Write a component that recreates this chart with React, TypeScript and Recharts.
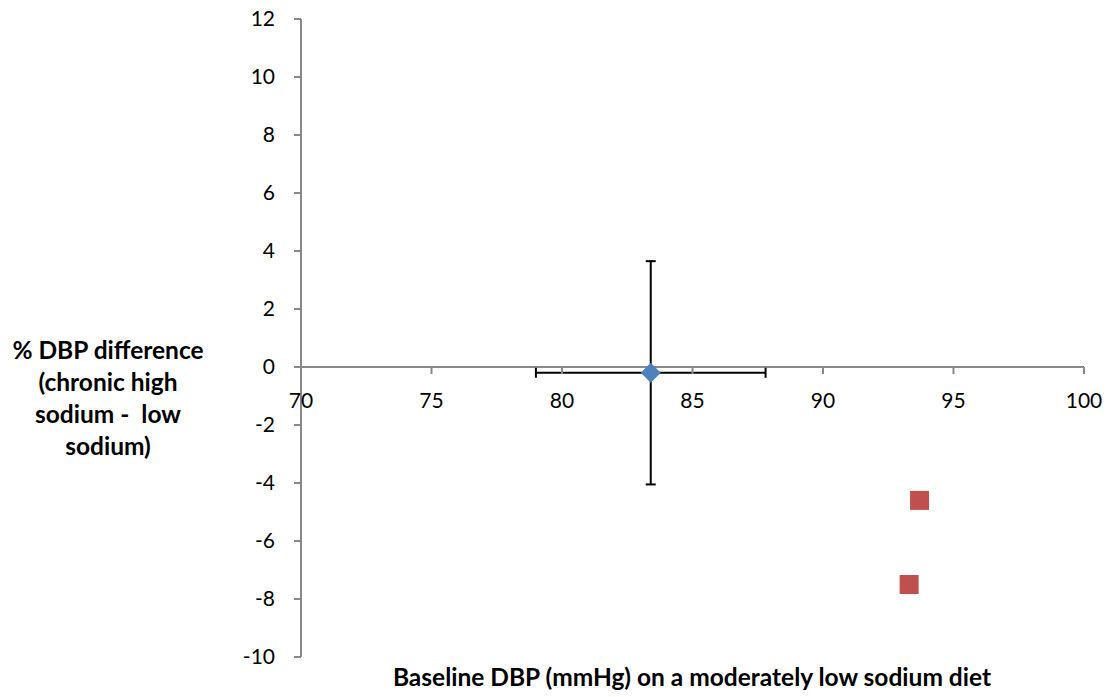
import React from "react";
import {
  ScatterChart,
  Scatter,
  XAxis,
  YAxis,
  ErrorBar,
  ReferenceLine,
  ReferenceDot,
} from "recharts";

// mean point with error bars
const meanX = [83.4];
const meanY = [-0.2];
const meanXErr = [4.4];
const meanYErr = [3.85];

// individual points
const otherX = [93.7, 93.3];
const otherY = [-4.6, -7.5];

const xTicks = [70, 75, 80, 85, 90, 95, 100];
const yTicks = [-10, -8, -6, -4, -2, 0, 2, 4, 6, 8, 10, 12];

const yLabelLines = ["% DBP difference", "(chronic high", "sodium -  low", "sodium)"];
const xLabel = "Baseline DBP (mmHg) on a moderately low sodium diet";

const FONT = "Lato, 'Open Sans', sans-serif";
const AXIS = "#898989";

const meanData = meanX.map((x, i) => ({
  x,
  y: meanY[i],
  xErr: meanXErr[i],
  yErr: meanYErr[i],
}));
const otherData = otherX.map((x, i) => ({ x, y: otherY[i] }));

const Diamond = (props: any) => {
  const { cx, cy } = props;
  const r = 10;
  return (
    <polygon
      points={`${cx},${cy - r} ${cx + r},${cy} ${cx},${cy + r} ${cx - r},${cy}`}
      fill="#4F81BD"
    />
  );
};

const Square = (props: any) => {
  const { cx, cy } = props;
  const s = 19;
  return <rect x={cx - s / 2} y={cy - s / 2} width={s} height={s} fill="#C0504D" />;
};

// x axis crosses at y = 0: tick marks and labels drawn at each (tick, 0)
const xTickAt = (value: number) => (props: any) => {
  const { cx, cy } = props;
  return (
    <g>
      <line x1={cx} y1={cy} x2={cx} y2={cy + 7} stroke={AXIS} strokeWidth={2} />
      <text
        x={cx}
        y={cy + 41}
        textAnchor="middle"
        fontFamily={FONT}
        fontSize={21}
        fill="#000"
      >
        {value}
      </text>
    </g>
  );
};

export default function App() {
  return (
    <div
      style={{
        position: "absolute",
        left: 0,
        top: 0,
        width: 1113,
        height: 697,
        background: "#fff",
      }}
    >
      <ScatterChart
        width={1113}
        height={697}
        margin={{ top: 19, right: 29, bottom: 40, left: 241 }}
      >
        <XAxis
          type="number"
          dataKey="x"
          domain={[70, 100]}
          ticks={xTicks}
          hide
        />
        <YAxis
          type="number"
          dataKey="y"
          domain={[-10, 12]}
          ticks={yTicks}
          width={60}
          axisLine={{ stroke: AXIS, strokeWidth: 2 }}
          tickLine={{ stroke: AXIS, strokeWidth: 2 }}
          tickSize={7}
          tickMargin={19}
          tick={{ fontFamily: FONT, fontSize: 21, fill: "#000" }}
        />
        <ReferenceLine y={0} stroke={AXIS} strokeWidth={2} />
        {xTicks.map((t) => (
          <ReferenceDot key={t} x={t} y={0} shape={xTickAt(t)} />
        ))}
        <Scatter data={meanData} shape={Diamond} isAnimationActive={false}>
          <ErrorBar
            dataKey="yErr"
            direction="y"
            width={5}
            stroke="#000"
            strokeWidth={2}
            isAnimationActive={false}
          />
          <ErrorBar
            dataKey="xErr"
            direction="x"
            width={5}
            stroke="#000"
            strokeWidth={2}
            isAnimationActive={false}
          />
        </Scatter>
        <Scatter data={otherData} shape={Square} isAnimationActive={false} />
      </ScatterChart>

      <div
        style={{
          position: "absolute",
          left: 8,
          top: 334,
          width: 200,
          textAlign: "center",
          fontFamily: FONT,
          fontWeight: "bold",
          fontSize: 24.5,
          lineHeight: "32px",
          whiteSpace: "pre",
        }}
      >
        {yLabelLines.map((l) => (
          <div key={l}>{l}</div>
        ))}
      </div>
      <div
        style={{
          position: "absolute",
          left: 300,
          width: 784,
          top: 662,
          textAlign: "center",
          fontFamily: FONT,
          fontWeight: "bold",
          fontSize: 24.5,
          lineHeight: "30px",
        }}
      >
        {xLabel}
      </div>
    </div>
  );
}
